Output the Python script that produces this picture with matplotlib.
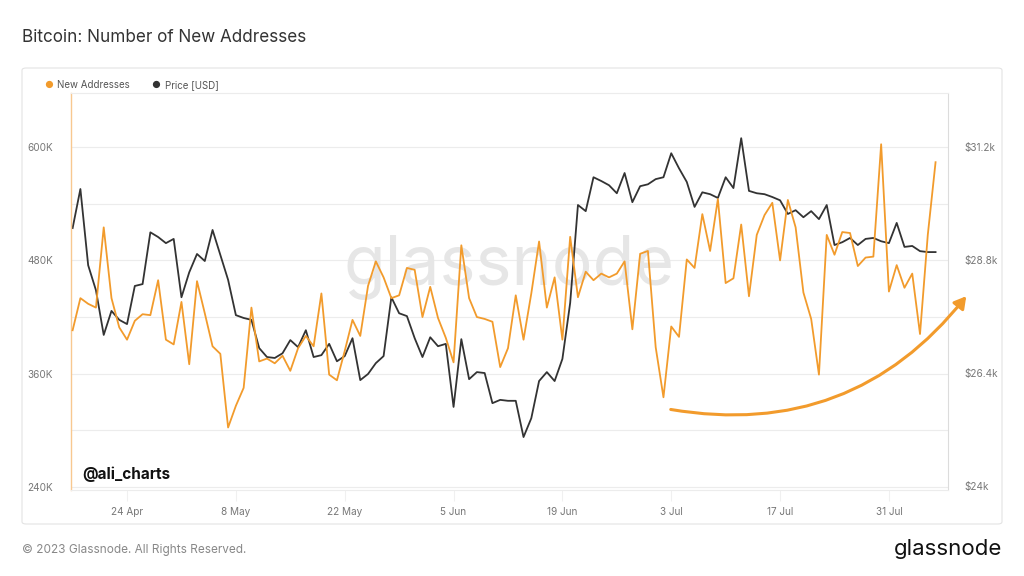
import matplotlib
matplotlib.use("Agg")
import matplotlib.pyplot as plt
import matplotlib.dates as mdates
from matplotlib.patches import FancyBboxPatch, FancyArrowPatch
import pandas as pd
import numpy as np

plt.rcParams['font.family'] = ['Inter', 'DejaVu Sans']

start_date = "2023-04-17"

new_addresses_k = [
    406, 440, 434, 430, 515, 440, 409, 396, 416, 423,
    422, 459, 396, 391, 436, 370, 458, 424, 389, 381,
    303, 326, 345, 430, 373, 376, 371, 379, 363, 387,
    400, 389, 445, 359, 353, 384, 417, 400, 453, 479,
    462, 440, 443, 472, 470, 420, 452, 419, 398, 372,
    496, 440, 420, 418, 415, 367, 387, 443, 396, 445,
    500, 430, 462, 396, 505, 441, 468, 459, 466, 462,
    466, 479, 407, 487, 490, 388, 335, 410, 399, 481,
    472, 529, 490, 545, 456, 461, 518, 442, 507, 528,
    541, 480, 544, 515, 446, 418, 359, 507, 486, 510,
    509, 474, 483, 484, 603, 447, 475, 451, 466, 402,
    507, 584,
]

price_k = [
    29.48, 30.31, 28.69, 28.16, 27.21, 27.72, 27.53, 27.44, 28.25, 28.29,
    29.39, 29.29, 29.16, 29.25, 28.01, 28.54, 28.93, 28.78, 29.44, 28.91,
    28.38, 27.63, 27.57, 27.53, 26.93, 26.74, 26.72, 26.82, 27.10, 26.95,
    27.31, 26.74, 26.78, 27.02, 26.65, 26.76, 27.14, 26.25, 26.38, 26.61,
    26.76, 28.01, 27.67, 27.61, 27.14, 26.74, 27.16, 26.97, 27.02, 25.68,
    27.12, 26.27, 26.42, 26.40, 25.76, 25.83, 25.81, 25.81, 25.04, 25.44,
    26.23, 26.42, 26.23, 26.70, 27.89, 29.97, 29.84, 30.56, 30.48, 30.39,
    30.22, 30.65, 30.03, 30.37, 30.41, 30.52, 30.56, 31.07, 30.75, 30.46,
    29.93, 30.24, 30.20, 30.12, 30.56, 30.33, 31.39, 30.27, 30.22, 30.20,
    30.14, 30.07, 29.78, 29.86, 29.71, 29.84, 29.67, 29.97, 29.12, 29.18,
    29.27, 29.12, 29.25, 29.27, 29.20, 29.16, 29.59, 29.08, 29.10, 28.99,
    28.97, 28.97,
]

left_tick_labels = ["240K", "360K", "480K", "600K"]
right_tick_labels = ["$24k", "$26.4k", "$28.8k", "$31.2k"]
x_tick_dates = ["2023-04-24", "2023-05-08", "2023-05-22", "2023-06-05",
                "2023-06-19", "2023-07-03", "2023-07-17", "2023-07-31"]

ORANGE = "#f29b2c"
DARK = "#333333"
GRID = "#ececec"
TICKC = "#777777"

dates = pd.date_range(start_date, periods=len(new_addresses_k), freq="D")
na = np.array(new_addresses_k) * 1000
pr = np.array(price_k) * 1000

fig = plt.figure(figsize=(10.24, 5.76), dpi=100)
fig.patch.set_facecolor("white")

# outer panel
panel = FancyBboxPatch((22 / 1024, 1 - 524 / 576), (1002 - 22) / 1024, (524 - 68) / 576,
                       boxstyle="round,pad=0,rounding_size=0.004",
                       transform=fig.transFigure, facecolor="none",
                       edgecolor="#e3e3e3", linewidth=0.8, zorder=-10)
fig.patches.append(panel)

ax = fig.add_axes([71 / 1024, 1 - 490 / 576, (948 - 71) / 1024, (490 - 93) / 576])
ax2 = ax.twinx()

d0 = pd.Timestamp(start_date)
ax.set_xlim(d0 - pd.Timedelta(hours=5), d0 + pd.Timedelta(days=112.6))
ax.set_ylim(236800, 657300)
ax2.set_ylim(23915, 32350)

# gridlines every 60K
for v in np.arange(240000, 660001, 60000):
    ax2.axhline(23915 + (v - 236800) * (32350 - 23915) / (657300 - 236800),
                color=GRID, linewidth=0.8, zorder=0)

# watermark
ax2.text(0.5, 0.56, "glassnode", transform=ax2.transAxes, fontsize=49,
         color="#e6e6e6", ha="center", va="center", zorder=1)

ax2.plot(dates, pr, color=DARK, linewidth=1.3, zorder=3)
ax.plot(dates, na, color=ORANGE, linewidth=1.3, zorder=3)
ax2.set_zorder(1)
ax.set_zorder(2)
ax.patch.set_visible(False)
ax2.patch.set_facecolor("white")

# y ticks
ax.set_yticks([240000, 360000, 480000, 600000])
ax.set_yticklabels(left_tick_labels)
ax2.set_yticks([24000, 26400, 28800, 31200])
ax2.set_yticklabels(right_tick_labels)
for a in (ax, ax2):
    a.tick_params(axis="y", length=0, labelsize=7.2, labelcolor=TICKC, pad=12)
ax.tick_params(axis="y", pad=13)

ax.set_xticks(pd.to_datetime(x_tick_dates))
ax.xaxis.set_major_formatter(mdates.DateFormatter("%-d %b"))
ax.tick_params(axis="x", length=8, color="#f0f0f0", labelsize=7.2, labelcolor=TICKC, pad=4)
ax2.tick_params(axis="x", length=0)

for a in (ax, ax2):
    for s in a.spines.values():
        s.set_visible(False)
ax.spines["left"].set_visible(True)
ax.spines["left"].set_color("#f8c890")
ax.spines["left"].set_linewidth(1.0)
ax2.spines["right"].set_visible(True)
ax2.spines["right"].set_color("#dcdcdc")
ax2.spines["right"].set_linewidth(0.8)
ax.spines["bottom"].set_visible(True)
ax.spines["bottom"].set_color("#ececec")
ax.spines["bottom"].set_linewidth(0.8)
ax.spines["top"].set_visible(True)
ax.spines["top"].set_color("#ececec")
ax.spines["top"].set_linewidth(0.8)

# author watermark
fig.text(82 / 1024, 1 - 474 / 576, "@ali_charts",
         fontsize=11, fontweight="bold", color="#111111", va="center", ha="left", zorder=5)

# title
fig.text(22 / 1024, 1 - 37 / 576, "Bitcoin: Number of New Addresses",
         fontsize=12.3, color="#333333", va="center", ha="left")

# legend
fig.text(49 / 1024, 1 - 85 / 576, "●", fontsize=7, color=ORANGE, va="center", ha="center")
fig.text(57 / 1024, 1 - 85 / 576, "New Addresses", fontsize=7, color="#555555", va="center")
fig.text(156 / 1024, 1 - 85 / 576, "●", fontsize=7, color=DARK, va="center", ha="center")
fig.text(165 / 1024, 1 - 85 / 576, "Price [USD]", fontsize=7, color="#555555", va="center")

# footer
fig.text(22 / 1024, 1 - 550 / 576, "© 2023 Glassnode. All Rights Reserved.",
         fontsize=8.5, color="#888888", va="center", ha="left")
fig.text(1002 / 1024, 1 - 549 / 576, "glassnode", fontsize=16, color="#111111",
         va="center", ha="right")

# curved arrow annotation
arrow = FancyArrowPatch((668 / 1024, 1 - 409 / 576), (968 / 1024, 1 - 294 / 576),
                        transform=fig.transFigure, connectionstyle="arc3,rad=0.3",
                        arrowstyle="-|>,head_length=7,head_width=4",
                        color=ORANGE, linewidth=2.2, zorder=10)
fig.patches.append(arrow)

fig.savefig("out.png", dpi=100, facecolor="white")
